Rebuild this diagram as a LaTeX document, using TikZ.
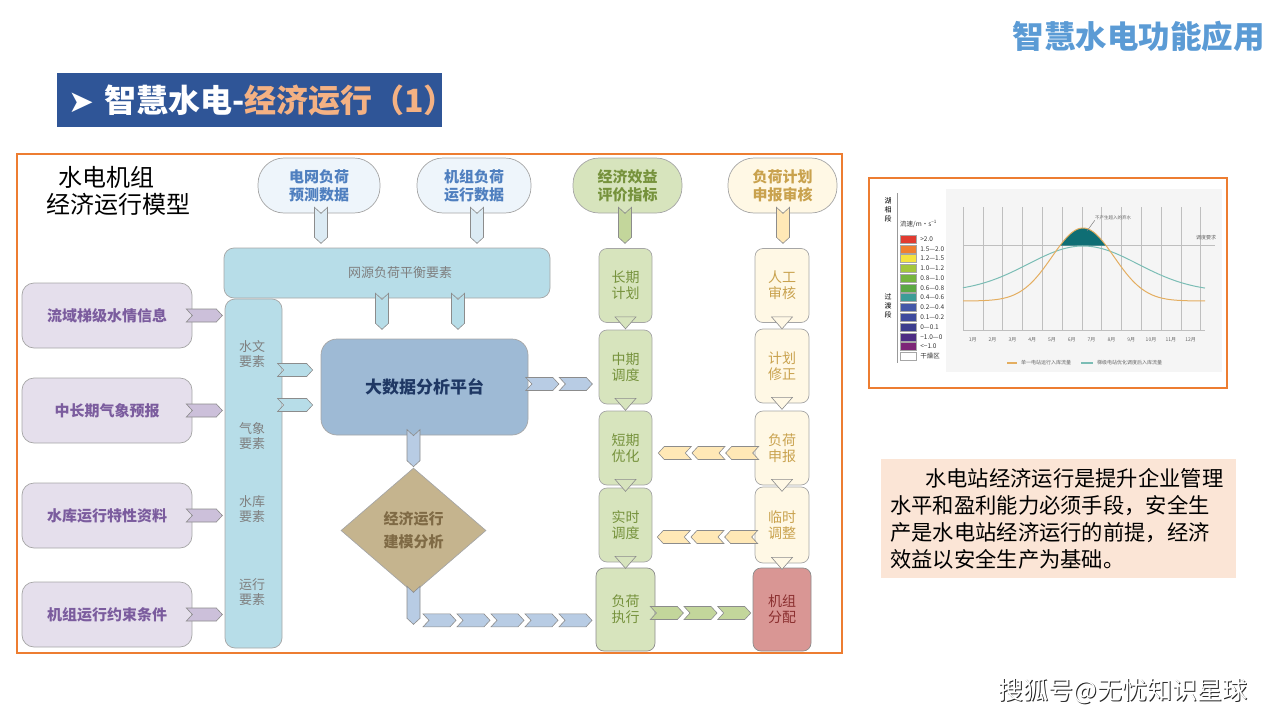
\documentclass[tikz,border=0pt]{standalone}
\usepackage{fontspec}
\setmainfont{Noto Sans CJK SC}
\newfontfamily\symfont{DejaVu Sans}
\usepackage{tikz}
\usetikzlibrary{shapes.geometric,calc}

\definecolor{frameor}{HTML}{ED7D31}
\definecolor{banner}{HTML}{2F5597}
\definecolor{headblue}{HTML}{5B9BD5}
\definecolor{banor}{HTML}{F4B183}
\definecolor{boxline}{HTML}{A6A6A6}
\definecolor{chevline}{HTML}{8C8C8C}
\definecolor{purfill}{HTML}{E5DFEC}
\definecolor{purtxt}{HTML}{7B5C9E}
\definecolor{purch}{HTML}{CCC0DA}
\definecolor{colfill}{HTML}{B7DDE8}
\definecolor{coltxt}{HTML}{7F7F7F}
\definecolor{ovblue}{HTML}{EEF5FB}
\definecolor{ovbluetxt}{HTML}{4F7FBF}
\definecolor{ovbluech}{HTML}{DCEBF4}
\definecolor{ovgreen}{HTML}{D7E4BD}
\definecolor{greentxt}{HTML}{76923C}
\definecolor{greench}{HTML}{C3D69B}
\definecolor{ovtan}{HTML}{FFF8E5}
\definecolor{tantxt}{HTML}{C9A24E}
\definecolor{tanch}{HTML}{FFE8B6}
\definecolor{bigfill}{HTML}{9EBAD5}
\definecolor{bigtxt}{HTML}{1F3864}
\definecolor{bigch}{HTML}{B8CCE4}
\definecolor{diafill}{HTML}{C5B48E}
\definecolor{diatxt}{HTML}{7F6A45}
\definecolor{redfill}{HTML}{D99694}
\definecolor{redtxt}{HTML}{8B2F2F}
\definecolor{peach}{HTML}{FBE5D6}
\definecolor{orcurve}{HTML}{E4AE60}
\definecolor{tlcurve}{HTML}{7BBDB5}
\definecolor{darkteal}{HTML}{0F6E74}
\definecolor{lgA}{HTML}{E13B30}
\definecolor{lgB}{HTML}{F07F2F}
\definecolor{lgC}{HTML}{F5E33F}
\definecolor{lgD}{HTML}{A4C63C}
\definecolor{lgE}{HTML}{76B43E}
\definecolor{lgF}{HTML}{5CA844}
\definecolor{lgG}{HTML}{3D9C97}
\definecolor{lgH}{HTML}{4458A8}
\definecolor{lgI}{HTML}{3E4A9E}
\definecolor{lgJ}{HTML}{3C3D8E}
\definecolor{lgK}{HTML}{4E2D84}
\definecolor{lgL}{HTML}{7D2677}

\begin{document}
\begin{tikzpicture}[x=1pt,y=-1pt,
  box/.style={draw=boxline, line width=0.7pt, inner sep=0pt, align=center},
  oval/.style={box, rounded corners=26pt, minimum height=55pt, font=\fontsize{15}{18}\selectfont\bfseries},
  srcbox/.style={box, fill=purfill, text=purtxt, rounded corners=12pt, minimum width=170pt, minimum height=65pt, font=\fontsize{15}{18}\selectfont\bfseries},
  colbox/.style={box, fill=colfill, rounded corners=10pt},
  coltext/.style={inner sep=0pt, align=center, text=coltxt, font=\fontsize{13}{15}\selectfont},
  stepg/.style={box, fill=ovgreen, text=greentxt, rounded corners=8pt, minimum width=53pt, minimum height=74pt, font=\fontsize{14}{16}\selectfont},
  stept/.style={box, fill=ovtan, text=tantxt, rounded corners=8pt, minimum width=54pt, minimum height=74pt, font=\fontsize{14}{16}\selectfont},
  chev/.style={draw=chevline, line width=0.6pt},
  pics/chevr/.style={code={\path[chev,pic actions] (0,-6.5) -- (#1-6,-6.5) -- (#1,0) -- (#1-6,6.5) -- (0,6.5) -- (6,0) -- cycle;}},
  pics/chevl/.style={code={\path[chev,pic actions] (0,-6.5) -- (-#1+6,-6.5) -- (-#1,0) -- (-#1+6,6.5) -- (0,6.5) -- (-6,0) -- cycle;}},
  pics/chevd/.style={code={\path[chev,pic actions] (-6.5,0) -- (0,6) -- (6.5,0) -- (6.5,#1-6) -- (0,#1) -- (-6.5,#1-6) -- cycle;}},
  pics/tridown/.style={code={\path[chev,pic actions] (-10.5,-6) -- (10.5,-6) -- (0,6) -- cycle;}},
  swatch/.style={draw=boxline, line width=0.3pt, minimum width=16pt, minimum height=8pt, inner sep=0pt},
  lgtext/.style={inner sep=0pt, anchor=west, font=\fontsize{6.5}{7}\selectfont, text=black!80},
  tinytext/.style={inner sep=0pt, font=\fontsize{5}{6}\selectfont, text=black!60},
  gridl/.style={draw=black!25, line width=0.5pt}
]
\useasboundingbox (0,0) rectangle (1280,720);

% heading and banner
\node[inner sep=0pt, text=headblue, font=\fontsize{31.5}{32}\selectfont\bfseries] (head) at (1138.5,36) {智慧水电功能应用};
\node[fill=banner, anchor=north west, minimum width=385pt, minimum height=54pt, inner sep=0pt] (banner) at (57,73) {};
\node[anchor=west, inner sep=0pt, text=white, font=\fontsize{32}{32}\selectfont\bfseries] (bantxt) at (68,100)
  {{\symfont\fontsize{31}{31}\selectfont ➤}\hspace{10pt}智慧水电-{\color{banor}经济运行（1）}};

% main frame
\draw[frameor, line width=2pt] (17,154) rectangle (842,653);
\node[anchor=north west, inner sep=0pt, align=left, font=\fontsize{24}{27}\selectfont] (mtitle) at (46,166) {\hspace*{12pt}水电机组\\经济运行模型};

% top inputs
\node[oval, fill=ovblue, text=ovbluetxt, minimum width=122pt] (gridld) at (319,185.5) {电网负荷\\预测数据};
\node[oval, fill=ovblue, text=ovbluetxt, minimum width=114pt] (unitld) at (474,185.5) {机组负荷\\运行数据};
\node[oval, fill=ovgreen, text=greentxt, minimum width=109pt] (evalidx) at (627.5,185.5) {经济效益\\评价指标};
\node[oval, fill=ovtan, text=tantxt, minimum width=109pt] (planchk) at (782.5,185.5) {负荷计划\\申报审核};

% balance bar and factor column
\node[colbox, minimum width=326pt, minimum height=50pt, text=coltxt, font=\fontsize{13}{15}\selectfont] (bal) at (387,273) {\hspace*{26pt}网源负荷平衡要素};
\node[colbox, minimum width=57pt, minimum height=349pt] (col) at (253.5,473.5) {};
\node[coltext] (fhyd) at (252,354) {水文\\要素};
\node[coltext] (fmet) at (252,436) {气象\\要素};
\node[coltext] (fres) at (252,509) {水库\\要素};
\node[coltext] (fopr) at (252,592) {运行\\要素};

% source boxes
\node[srcbox] (src1) at (107,315.5) {流域梯级水情信息};
\node[srcbox] (src2) at (107,410.5) {中长期气象预报};
\node[srcbox] (src3) at (107,515.5) {水库运行特性资料};
\node[srcbox] (src4) at (107,614.5) {机组运行约束条件};
\foreach \s in {src1,src2,src3,src4}
  \pic[fill=purch] at ($(\s.east)+(-6,0)$) {chevr=36};

% platform and modelling
\node[box, fill=bigfill, text=bigtxt, rounded corners=16pt, minimum width=207pt, minimum height=96pt, font=\fontsize{17}{20}\selectfont\bfseries] (big) at (424.5,387) {大数据分析平台};
\node[diamond, draw=boxline, line width=0.7pt, fill=diafill, text=diatxt, inner sep=0pt, minimum width=145pt, minimum height=125pt, align=center, font=\fontsize{15}{23.5}\selectfont\bfseries] (dia) at (413.5,530.5) {经济运行\\建模分析};

\pic[fill=colfill] at ($(big.west)+(-43,-17)$) {chevr=35};
\pic[fill=colfill] at ($(big.west)+(-43,18)$) {chevr=35};
\pic[fill=colfill] at ($(bal.south)+(-5,-5)$) {chevd=36};
\pic[fill=colfill] at ($(bal.south)+(71,-5)$) {chevd=36};
\pic[fill=bigch] at ($(dia.north)+(0,-38)$) {chevd=37};
\pic[fill=bigch] at ($(dia.south)+(0,-7)$) {chevd=38};
\foreach \i in {0,1}
  \pic[fill=bigch] at ($(big.east)+(-2.5+\i*33.5,-3)$) {chevr=33};
\foreach \i in {0,...,4}
  \pic[fill=bigch] at ($(dia.south)+(9.5+\i*34,27)$) {chevr=33};

% dispatch column
\node[stepg] (longp) at (625.5,285.5) {长期\\计划};
\node[stepg] (midd) at (625.5,367) {中期\\调度};
\node[stepg] (shortp) at (625.5,448) {短期\\优化};
\node[stepg] (realt) at (625.5,525) {实时\\调度};
\node[stepg, draw=chevline, minimum width=59pt, minimum height=83pt] (exec) at (625.5,609.5) {负荷\\执行};

% declaration column
\node[stept] (manual) at (782,285.5) {人工\\审核};
\node[stept] (revise) at (782,366) {计划\\修正};
\node[stept] (declare) at (782,448) {负荷\\申报};
\node[stept, minimum height=76pt] (tempadj) at (782,525) {临时\\调整};
\node[box, draw=chevline, fill=redfill, text=redtxt, rounded corners=8pt, minimum width=58pt, minimum height=83pt, font=\fontsize{14}{16}\selectfont] (alloc) at (782,609.5) {机组\\分配};

\foreach \n in {longp,midd,shortp,realt}
  \pic[fill=ovgreen] at (\n.south) {tridown};
\foreach \n in {manual,revise,declare,tempadj}
  \pic[fill=ovtan] at (\n.south) {tridown};

\pic[fill=ovbluech] at ($(gridld.south)+(2,-6)$) {chevd=36};
\pic[fill=ovbluech] at ($(unitld.south)+(3,-6)$) {chevd=36};
\pic[fill=greench] at ($(evalidx.south)+(-2.5,-6)$) {chevd=36};
\pic[fill=tanch] at ($(planchk.south)+(0.5,-6)$) {chevd=36};

\foreach \i in {0,1,2}
  \pic[fill=greench] at ($(exec.east)+(-5+\i*33.7,3.5)$) {chevr=33};
\foreach \i in {0,1,2}
  \pic[fill=tanch] at ($(declare.west)+(4-\i*33.7,5)$) {chevl=33};
\foreach \i in {0,1,2}
  \pic[fill=tanch] at ($(tempadj.west)+(3-\i*33.7,12)$) {chevl=33};

% flow chart panel
\draw[frameor, line width=2pt] (869,178) rectangle (1227,388);
\fill[black!4] (946,189) rectangle (1222,372);
\draw[black!40, line width=0.5pt] (897,193) -- (897,363);
\node[inner sep=0pt, align=center, font=\fontsize{7}{9}\selectfont] (lake) at (888,210) {湖\\相\\段};
\node[inner sep=0pt, align=center, font=\fontsize{7}{9}\selectfont] (trans) at (888,306) {过\\渡\\段};
\node[lgtext] (vel) at (900,224) {流速/m·s\textsuperscript{−1}};
\foreach \clr/\lab [count=\i from 0] in {lgA/>2.0, lgB/1.5—2.0, lgC/1.2—1.5, lgD/1.0—1.2, lgE/0.8—1.0, lgF/0.6—0.8, lgG/0.4—0.6, lgH/0.2—0.4, lgI/0.1—0.2, lgJ/0—0.1, lgK/−1.0—0, lgL/<−1.0, white/干燥区}
{
  \node[swatch, fill=\clr] (sw\i) at (908,239+\i*9.77) {};
  \node[lgtext] (lt\i) at ($(sw\i.east)+(4,0)$) {\lab};
}

\draw[gridl] (963,207) -- (963,330) -- (1205,330);
\foreach \k in {1,...,12}
{
  \draw[gridl] (963+\k*19.8,207) -- (963+\k*19.8,330);
  \node[tinytext] (mon\k) at (953+\k*19.8,340) {{\k}月};
}
\draw[gridl] (963,245) -- (1215,245);
\node[tinytext] (req) at (1206,238) {调度要求};
\fill[darkteal] plot[domain=1060:1106, samples=30] (\x,{301-73*exp(-((\x-1083)/31)*((\x-1083)/31)/2)}) -- cycle;
\draw[tlcurve, line width=1pt] plot[domain=963:1205, samples=90, smooth] (\x,{292-46*exp(-((\x-1083)/55)*((\x-1083)/55)/2)});
\draw[orcurve, line width=1pt] plot[domain=963:1205, samples=90, smooth] (\x,{301-73*exp(-((\x-1083)/31)*((\x-1083)/31)/2)});
\node[tinytext, font=\fontsize{4.5}{5}\selectfont] (ann) at (1113,218) {不产生超入的弃水};
\coordinate (crest) at (1087,231);
\draw[black!50, line width=0.5pt] (ann.south west) -- (crest);
\draw[orcurve, line width=1.2pt] (1007,363) -- (1017,363);
\node[tinytext, anchor=west] (leg1) at (1021,363) {单一电站运行入库流量};
\draw[tlcurve, line width=1.2pt] (1081,363) -- (1093,363);
\node[tinytext, anchor=west] (leg2) at (1097,363) {梯级电站优化调度后入库流量};

% note box
\node[fill=peach, anchor=north west, minimum width=355pt, minimum height=119pt, text width=337pt, inner xsep=9pt, inner ysep=0pt, align=left, font=\fontsize{21.3}{27}\selectfont] (note) at (881,459)
  {\hspace*{35pt}水电站经济运行是提升企业管理\\水平和盈利能力必须手段，安全生\\产是水电站经济运行的前提，经济\\效益以安全生产为基础。};

% watermark
\node[inner sep=0pt, text=black!85, font=\fontsize{25}{25}\selectfont] (wmshade) at (1124,692) {搜狐号@无忧知识星球};
\node[inner sep=0pt, text=white, font=\fontsize{25}{25}\selectfont] (wm) at (1123,691) {搜狐号@无忧知识星球};

\end{tikzpicture}
\end{document}
